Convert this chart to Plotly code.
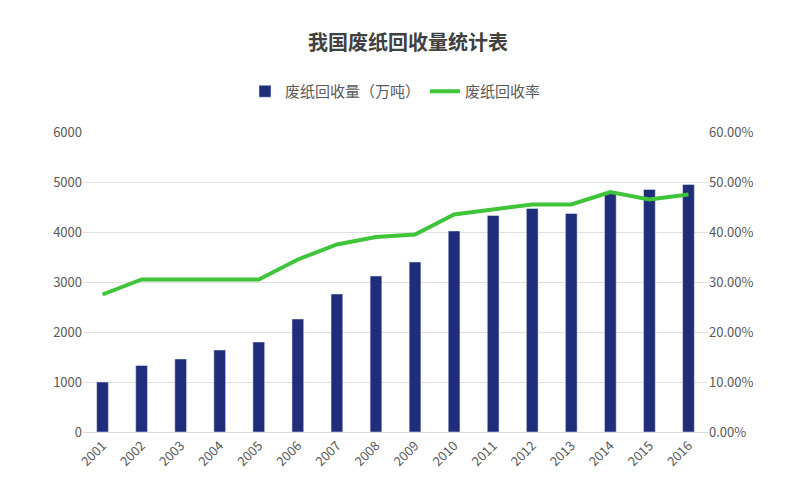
import plotly.graph_objects as go

years = [str(y) for y in range(2001, 2017)]
volume = [1000, 1330, 1460, 1640, 1800, 2260, 2760, 3120, 3400, 4020, 4330, 4470, 4370, 4800, 4850, 4950]
rate = [27.5, 30.5, 30.5, 30.5, 30.5, 34.5, 37.5, 39.0, 39.5, 43.5, 44.5, 45.5, 45.5, 48.0, 46.5, 47.5]
rate = [r / 100 for r in rate]

fig = go.Figure()
fig.add_bar(x=years, y=volume, name="废纸回收量（万吨）", marker_color="#1f2d7b", width=0.3)
fig.add_scatter(x=years, y=rate, name="废纸回收率", yaxis="y2", mode="lines",
                line=dict(color="#3fc43a", width=4))
fig.update_layout(
    width=800, height=500, plot_bgcolor="white", paper_bgcolor="white",
    font=dict(family="Noto Sans CJK SC", color="#595959", size=13),
    title=dict(text="<b>我国废纸回收量统计表</b>", x=0.5, y=0.93, yanchor="middle",
               font=dict(size=20, color="#404040")),
    legend=dict(orientation="h", x=0.5, xanchor="center", y=1.08, yanchor="bottom",
                font=dict(size=15)),
    margin=dict(l=75, r=100, t=124, b=76, autoexpand=False),
    bargap=0.5,
    xaxis=dict(tickangle=-45, showline=True, linecolor="#d9d9d9"),
    yaxis=dict(range=[0, 6000], dtick=1000, gridcolor="#e0e0e0", zeroline=False),
    yaxis2=dict(range=[0, 0.6], dtick=0.1, tickformat=".2%", overlaying="y", side="right",
                showgrid=False, zeroline=False),
)
fig.write_html("out.html")
